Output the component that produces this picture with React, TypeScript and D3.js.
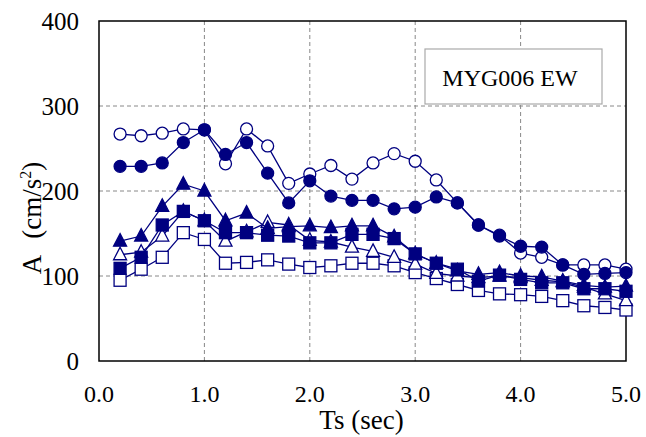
import React from 'react'
import * as d3 from 'd3'

const periods = [0.2, 0.4, 0.6, 0.8, 1.0, 1.2, 1.4, 1.6, 1.8, 2.0, 2.2, 2.4, 2.6, 2.8, 3.0, 3.2, 3.4, 3.6, 3.8, 4.0, 4.2, 4.4, 4.6, 4.8, 5.0]

const openCircle = [267, 265, 268, 273, 272, 232, 273, 253, 209, 220, 230, 214, 233, 244, 235, 213, 186, 160, 148, 127, 122, 113, 113, 113, 108]
const filledCircle = [229, 229, 233, 257, 272, 243, 257, 221, 186, 212, 194, 189, 189, 179, 181, 193, 186, 160, 147, 135, 134, 113, 102, 103, 104]
const filledTriangle = [141, 147, 182, 208, 200, 165, 174, 156, 158, 159, 157, 159, 159, 146, 126, 115, 106, 102, 104, 100, 99, 94, 89, 87, 88]
const openTriangle = [125, 128, 147, 176, 165, 141, 152, 163, 160, 142, 140, 134, 129, 122, 114, 103, 100, 98, 100, 98, 95, 93, 87, 79, 71]
const filledSquare = [109, 122, 160, 176, 165, 151, 151, 148, 147, 139, 139, 149, 149, 144, 126, 115, 108, 94, 101, 96, 92, 92, 85, 85, 82]
const openSquare = [95, 108, 122, 151, 143, 115, 116, 119, 114, 110, 112, 115, 115, 112, 104, 97, 90, 83, 79, 78, 76, 71, 65, 63, 60]

const xTicks = [0, 1, 2, 3, 4, 5]
const yTicks = [0, 100, 200, 300, 400]

const series = [
  { name: 'openSquare', values: openSquare, shape: 'square', filled: false },
  { name: 'openTriangle', values: openTriangle, shape: 'triangle', filled: false },
  { name: 'filledSquare', values: filledSquare, shape: 'square', filled: true },
  { name: 'filledTriangle', values: filledTriangle, shape: 'triangle', filled: true },
  { name: 'openCircle', values: openCircle, shape: 'circle', filled: false },
  { name: 'filledCircle', values: filledCircle, shape: 'circle', filled: true },
]

const navy = '#000080'
const serif = '"Liberation Serif", "Times New Roman", serif'

const Marker = ({ shape, filled, x, y }: any) => {
  const fill = filled ? navy : '#fff'
  if (shape === 'circle') return <circle cx={x} cy={y} r={6} fill={fill} stroke={navy} strokeWidth={1.3} />
  if (shape === 'square') return <rect x={x - 6} y={y - 6} width={12} height={12} fill={fill} stroke={navy} strokeWidth={1.3} />
  return <path d={`M${x},${y - 7.5}L${x + 6.5},${y + 5}L${x - 6.5},${y + 5}Z`} fill={fill} stroke={navy} strokeWidth={1.3} />
}

const App = () => {
  const width = 646
  const height = 437
  const margin = { top: 21, right: 20, bottom: 76, left: 99 }
  const plotW = 626 - margin.left
  const plotH = 361 - margin.top

  const x = d3.scaleLinear().domain([0, 5]).range([0, plotW])
  const y = d3.scaleLinear().domain([0, 400]).range([plotH, 0])
  const line = d3.line<number>().x((_, i) => x(periods[i])).y(d => y(d))

  return (
    <svg width={width} height={height} style={{ position: 'absolute', left: 0, top: 0, background: '#fff' }}>
      <g transform={`translate(${margin.left}, ${margin.top})`}>
        {xTicks.slice(1, -1).map(t => (
          <line key={`vx${t}`} x1={x(t)} x2={x(t)} y1={0} y2={plotH} stroke="#888" strokeDasharray="4,3" strokeWidth={1} />
        ))}
        {yTicks.slice(1, -1).map(t => (
          <line key={`hy${t}`} x1={0} x2={plotW} y1={y(t)} y2={y(t)} stroke="#888" strokeDasharray="4,3" strokeWidth={1} />
        ))}
        <rect x={0} y={0} width={plotW} height={plotH} fill="none" stroke="#000" strokeWidth={1.5} />

        {series.map(s => (
          <g key={s.name}>
            <path d={line(s.values) || ''} fill="none" stroke={navy} strokeWidth={1.3} />
            {s.values.map((v, i) => (
              <Marker key={i} shape={s.shape} filled={s.filled} x={x(periods[i])} y={y(v)} />
            ))}
          </g>
        ))}

        {yTicks.map(t => (
          <text key={`yl${t}`} x={-20} y={y(t)} dy="0.35em" textAnchor="end" fontFamily={serif} fontSize={25}>{t}</text>
        ))}
        {xTicks.map(t => (
          <text key={`xl${t}`} x={x(t)} y={plotH + 41} textAnchor="middle" fontFamily={serif} fontSize={24}>{t.toFixed(1)}</text>
        ))}

        <rect x={326} y={28} width={177} height={55} fill="#fff" stroke="#aaa" strokeWidth={1.2} />
        <text x={411} y={65} textAnchor="middle" fontFamily={serif} fontSize={24}>MYG006 EW</text>

        <text x={plotW / 2 - 1} y={plotH + 68} textAnchor="middle" fontFamily={serif} fontSize={27}>Ts (sec)</text>
      </g>
      <text transform={`translate(41, 218) rotate(-90)`} textAnchor="middle" fontFamily={serif} fontSize={27}>
        A<tspan dx={16}>(cm/s</tspan><tspan dy={-10} fontSize={16}>2</tspan><tspan dy={10}>)</tspan>
      </text>
    </svg>
  )
}

export default App
